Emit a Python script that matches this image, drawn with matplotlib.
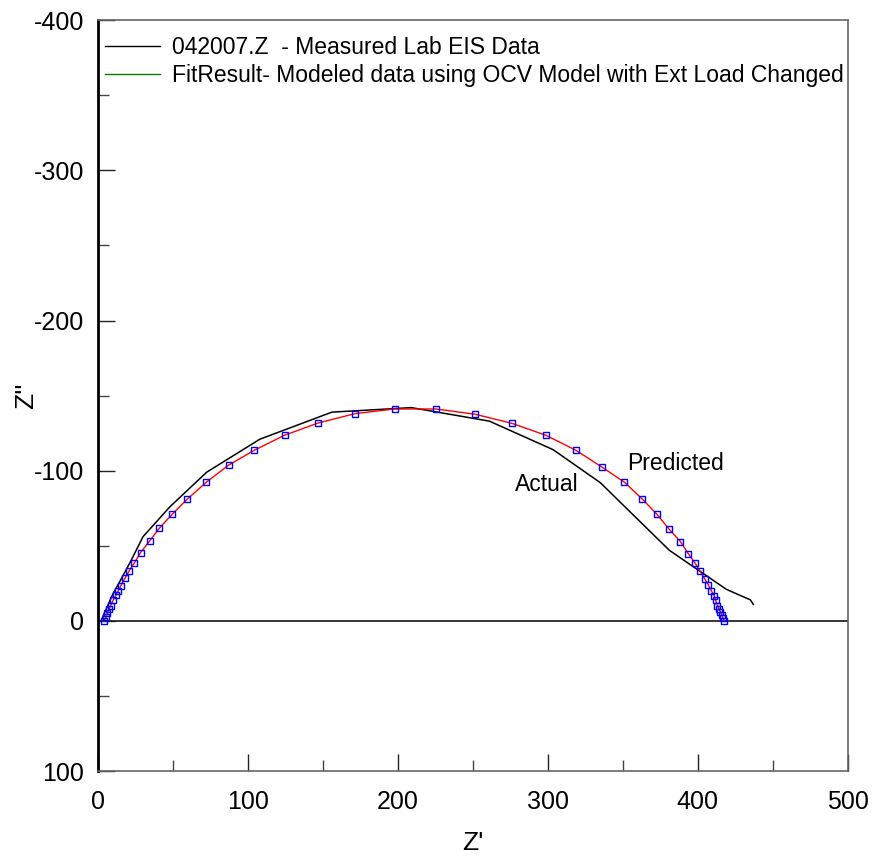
import matplotlib
matplotlib.use("Agg")
import matplotlib.pyplot as plt
from matplotlib.lines import Line2D
from matplotlib.ticker import MultipleLocator

plt.rcParams['font.family'] = ['Liberation Sans', 'DejaVu Sans']
plt.rcParams['axes.unicode_minus'] = False

# measured lab EIS data (Z', Z'')
meas_x = [2.5, 6, 10, 15, 22, 30, 48, 72.5, 108, 156, 209, 261, 303.5, 335, 381, 419, 435, 437]
meas_y = [-1, -9, -18, -27, -40, -56, -76, -99, -121, -139, -142, -133, -114, -92, -47, -21, -14, -11]

# fit result (OCV model)
fit_x = [4, 5.3, 6.2, 7.5, 8.4, 10.2, 12, 13.5, 15.3, 18, 20.9, 24.2, 28.4, 34.7, 40.9,
         49.5, 59.5, 72.2, 87.1, 104.2, 124.4, 146.9, 171.5, 197.8, 225.3, 251.5, 275.8,
         298.7, 318.7, 336.2, 351.1, 363.1, 372.7, 380.9, 388.4, 393.6, 398.2, 401.5,
         404.7, 407.1, 409.1, 410.9, 411.8, 413.1, 414.2, 415.1, 416, 416.7, 417.5]
fit_y = [0, -2.5, -5.1, -8, -10, -14, -17.1, -20, -23.5, -28.4, -33.5, -38.4, -45.5, -53.5,
         -61.7, -71, -81, -92.3, -103.7, -113.6, -123.6, -131.8, -138, -141.1, -141.1,
         -137.6, -131.6, -123.6, -113.6, -102.3, -92.3, -81, -71, -61, -52.8, -44.8,
         -38.4, -33.1, -27.8, -23.8, -19.8, -16.8, -14, -10.2, -7.8, -5.8, -4, -2.2, -0.2]

legend_labels = ["042007.Z  - Measured Lab EIS Data",
                 "FitResult- Modeled data using OCV Model with Ext Load Changed"]

fig = plt.figure(figsize=(8.77, 8.67), dpi=100)
ax = fig.add_axes([0.1117, 0.1107, 0.855, 0.866])

ax.axhline(0, color='black', lw=1.1, zorder=1)
ax.plot(meas_x, meas_y, color='black', lw=1.1, zorder=2)
ax.plot(fit_x, fit_y, color='red', lw=1.0, zorder=3)
ax.plot(fit_x, fit_y, ls='none', marker='s', ms=4, mfc='none', mec='blue', mew=1.0, zorder=4)

ax.text(278, -91, "Actual", fontsize=16.5, va='center', ha='left')
ax.text(353, -104.5, "Predicted", fontsize=16.5, va='center', ha='left')

ax.set_xlim(0, 500)
ax.set_ylim(100, -400)
ax.xaxis.set_major_locator(MultipleLocator(100))
ax.xaxis.set_minor_locator(MultipleLocator(50))
ax.yaxis.set_major_locator(MultipleLocator(100))
ax.yaxis.set_minor_locator(MultipleLocator(50))
ax.tick_params(axis='both', which='major', direction='in', length=12, width=1, color='#222',
               labelsize=18, top=False, right=False)
ax.tick_params(axis='both', which='minor', direction='in', length=8, width=1, color='#444',
               top=False, right=False)
ax.tick_params(axis='x', which='major', pad=14)
ax.tick_params(axis='y', which='major', pad=10)

ax.spines['left'].set_linewidth(2)
ax.spines['left'].set_color('black')
for s in ['top', 'right', 'bottom']:
    ax.spines[s].set_linewidth(1.2)
    ax.spines[s].set_color('#666')

ax.set_xlabel("Z'", fontsize=19)
ax.set_ylabel("Z''", fontsize=19)
ax.xaxis.set_label_coords(0.5, -0.08)
ax.yaxis.set_label_coords(-0.08, 0.5)

handles = [Line2D([], [], color='black', lw=1), Line2D([], [], color='green', lw=1)]
ax.legend(handles, legend_labels, loc='upper left', bbox_to_anchor=(0.0093, 0.979),
          frameon=False, fontsize=16.5, handlelength=2.4, handletextpad=0.52,
          labelspacing=0.2, borderaxespad=0, borderpad=0)

fig.savefig("out.png", dpi=100)
